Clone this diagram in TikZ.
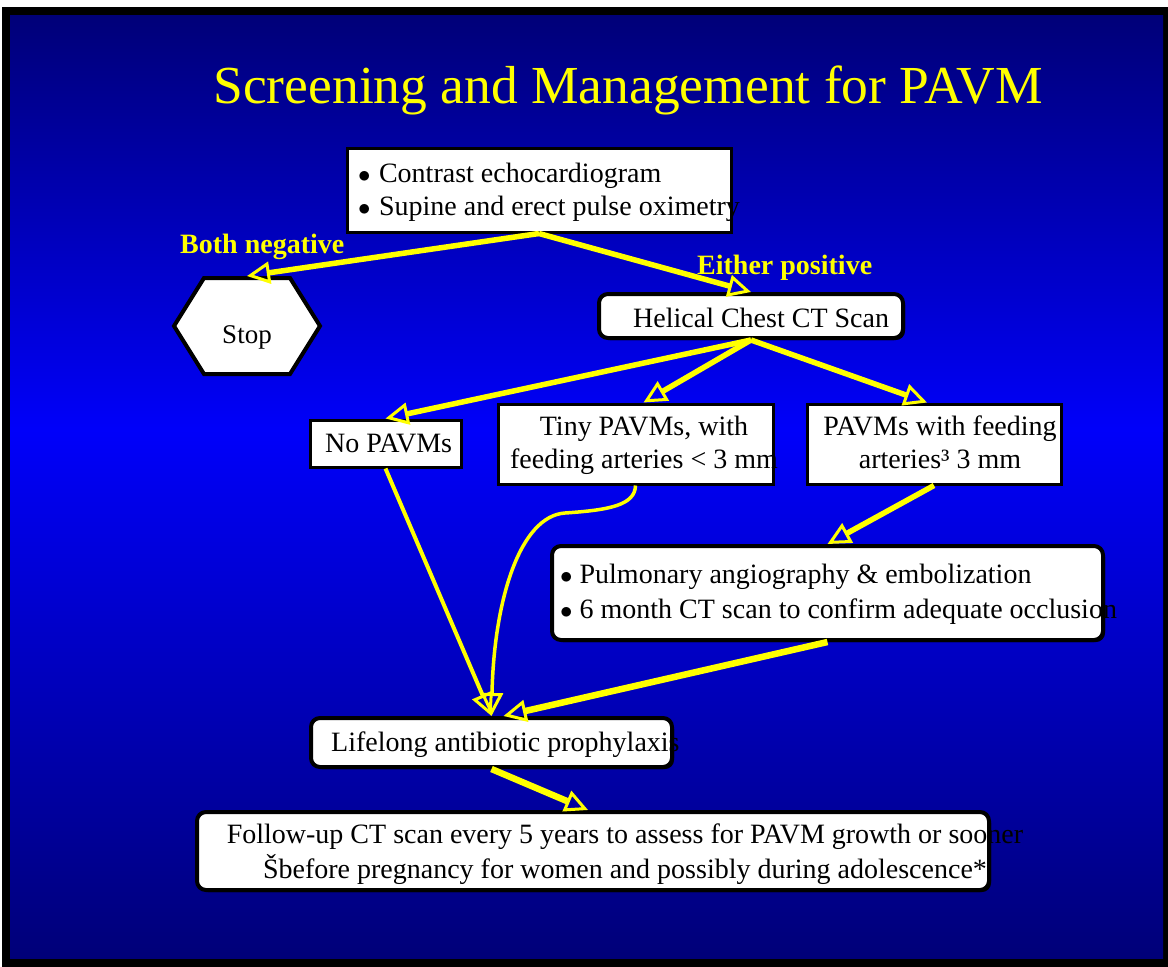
\documentclass[tikz,border=0pt]{standalone}
\usepackage{fontspec}
\setmainfont{Liberation Serif}
\usepackage{xcolor}
\definecolor{slideNavy}{RGB}{0,0,120}
\definecolor{slideBlue}{RGB}{0,0,250}
\definecolor{slideYellow}{RGB}{255,255,0}
\usetikzlibrary{arrows.meta,shapes.symbols,shadows,positioning}

\begin{document}
\begin{tikzpicture}[x=1pt, y=-1pt, font=\fontsize{28}{34}\selectfont,
    plainbox/.style={draw=black, line width=3pt, fill=white, inner sep=0pt},
    roundbox/.style={draw=black, line width=4pt, fill=white, rounded corners=9pt, inner sep=0pt,
        drop shadow={shadow xshift=2pt, shadow yshift=-2pt, fill=black, opacity=1}},
    boxtext/.style={inner sep=0pt, text=black},
    caption/.style={inner sep=0pt, text=slideYellow, font=\fontsize{28}{34}\selectfont\bfseries},
    flow/.style={draw=slideYellow, line width=5.5pt,
        -{Triangle[open, length=23pt, width=22pt, line width=3pt]}},
]

    % --- Slide background ---
    \useasboundingbox (0,0) rectangle (1168,967);
    \fill[white] (0,0) rectangle (1168,967);
    \fill[black] (2,7) rectangle (1168,967);
    \shade[top color=slideNavy, bottom color=slideBlue] (10,15) rectangle (1163,431);
    \shade[top color=slideBlue, bottom color=slideNavy] (10,430) rectangle (1163,958);

    \node[inner sep=0pt, text=slideYellow, font=\fontsize{53.5}{60}\selectfont, anchor=base] (title) at (628,103) {Screening and Management for PAVM};

    % --- Screening ---
    % (base of a two-line node = baseline of its last line)
    \node[plainbox, minimum width=384pt, minimum height=84pt] (echo) at (539,190) {};
    \node[boxtext, anchor=base west, align=left, font=\fontsize{28}{33}\selectfont] (echotext) at (358,215)
        {$\bullet$\hspace{0.3em}Contrast echocardiogram\\ $\bullet$\hspace{0.3em}Supine and erect pulse oximetry};

    \node[caption, anchor=base west] (negative) at (180,253) {Both negative};
    \node[caption, anchor=base west] (positive) at (697,274) {Either positive};

    \node[plainbox, line width=4pt, signal, signal to=east and west, signal pointer angle=116,
        minimum width=146pt, minimum height=96pt] (stop) at (247,326) {};
    \node[boxtext, anchor=base, font=\fontsize{27}{32}\selectfont] (stoptext) at (247,343) {Stop};

    \node[roundbox, minimum width=304pt, minimum height=44pt] (helical) at (751,316) {};
    \node[boxtext, anchor=base west] (helicaltext) at (633,327) {Helical Chest CT Scan};

    % --- CT findings ---
    \node[plainbox, minimum width=151pt, minimum height=47pt] (nopavm) at (385.5,443.5) {};
    \node[boxtext, anchor=base west] (nopavmtext) at (325,452) {No PAVMs};

    \node[plainbox, minimum width=275pt, minimum height=80pt] (tiny) at (635.5,444) {};
    \node[boxtext, anchor=base, align=center, font=\fontsize{28}{33}\selectfont] (tinytext) at (644,468)
        {Tiny PAVMs, with\\feeding arteries < 3 mm};

    \node[plainbox, minimum width=254pt, minimum height=80pt] (big) at (934,444) {};
    \node[boxtext, anchor=base, align=center, font=\fontsize{28}{33}\selectfont] (bigtext) at (940,468)
        {PAVMs with feeding\\arteries³ 3 mm};

    % --- Management ---
    \node[roundbox, minimum width=551pt, minimum height=94pt] (pulm) at (827.5,593) {};
    \node[boxtext, anchor=base west, align=left, font=\fontsize{28}{35}\selectfont] (pulmtext) at (560,618)
        {$\bullet$\hspace{0.25em}Pulmonary angiography \& embolization\\ $\bullet$\hspace{0.25em}6 month CT scan to confirm adequate occlusion};

    \node[roundbox, minimum width=361pt, minimum height=49pt] (lifelong) at (491.5,742.5) {};
    \node[boxtext, anchor=base west] (lifelongtext) at (331,751) {Lifelong antibiotic prophylaxis};

    \node[roundbox, minimum width=792pt, minimum height=78pt] (followup) at (593,851) {};
    \node[boxtext, anchor=base, align=center, font=\fontsize{28}{35}\selectfont] (followuptext) at (625,878)
        {Follow-up CT scan every 5 years to assess for PAVM growth or sooner\\Šbefore pregnancy for women and possibly during adolescence*};

    % --- Connectors ---
    \draw[flow] (echo.south) -- (stop.north);
    \draw[flow] (echo.south) -- (helical.north);
    \draw[flow] (helical.south) -- (nopavm.north);
    \draw[flow] (helical.south) -- ([xshift=8pt]tiny.north);
    \draw[flow] (helical.south) -- ([xshift=-7pt]big.north);
    \draw[flow] (big.south) -- (pulm.north);
    \draw[flow, line width=4pt] (nopavm.south) -- (lifelong.north);
    \draw[flow, line width=3.5pt] (tiny.south) .. controls (635,505) and (610,510) .. (565,513)
        .. controls (520,516) and (494,600) .. (lifelong.north);
    \draw[flow, line width=6.5pt] (pulm.south) -- ([xshift=12pt]lifelong.north);
    \draw[flow, line width=6.5pt] (lifelong.south) -- ([xshift=-5pt]followup.north);

\end{tikzpicture}
\end{document}
